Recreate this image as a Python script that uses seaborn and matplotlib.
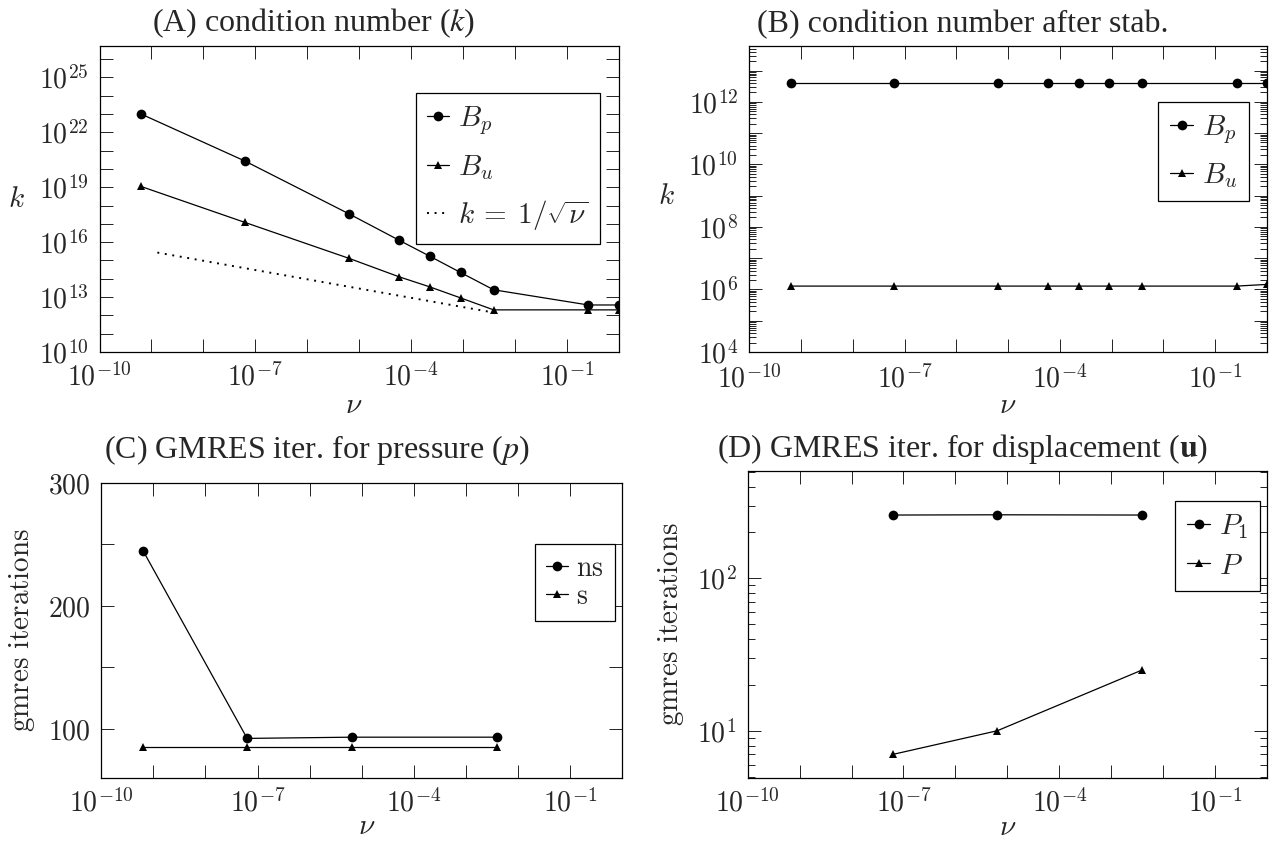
import numpy as np
import matplotlib
matplotlib.use("Agg")
import matplotlib.pyplot as plt
import seaborn as sns
from matplotlib.ticker import FixedLocator, FuncFormatter, NullFormatter
from matplotlib.font_manager import FontProperties

# ---------------- data ----------------
nu_k = [6.3e-10, 6.3e-8, 6.4e-6, 5.8e-5, 2.3e-4, 9.0e-4, 3.9e-3, 0.26, 1.0]
cond_Bp = [1.0e23, 2.7e20, 3.5e17, 1.3e16, 1.7e15, 2.2e14, 2.5e13, 3.7e12, 3.7e12]
cond_Bu = [1.1e19, 1.2e17, 1.3e15, 1.3e14, 3.6e13, 9.0e12, 2.0e12, 2.0e12, 2.0e12]
ref_nu = [1.3e-9, 5.0e-3]
ref_k = [2.7e15, 1.26e12]

stab_Bp = [4.0e12, 4.0e12, 4.0e12, 4.0e12, 4.0e12, 4.0e12, 4.0e12, 4.0e12, 4.0e12]
stab_Bu = [1.28e6, 1.28e6, 1.28e6, 1.28e6, 1.28e6, 1.28e6, 1.28e6, 1.28e6, 1.45e6]

nu_p = [6.3e-10, 6.3e-8, 6.4e-6, 3.9e-3]
iter_ns = [245, 92, 93, 93]
iter_s = [85, 85, 85, 85]

nu_u = [6.3e-8, 6.4e-6, 3.9e-3]
iter_P1 = [260, 261, 260]
iter_P = [7, 10, 25]

titles = ["(A) condition number ($k$)", "(B) condition number after stab.",
          "(C) GMRES iter. for pressure ($p$)",
          r"(D) GMRES iter. for displacement ($\mathbf{u}$)"]

# ---------------- style ----------------
sns.set_style("white")
plt.rcParams["font.family"] = ["DejaVu Serif"]
plt.rcParams["mathtext.fontset"] = "cm"
plt.rcParams["axes.unicode_minus"] = True

W, H = 1274, 842
fig = plt.figure(figsize=(W / 100, H / 100), dpi=100)


def px_axes(l, r, t, b):
    return fig.add_axes([l / W, 1 - b / H, (r - l) / W, (b - t) / H])


def style(ax):
    for s in ax.spines.values():
        s.set_visible(True)
        s.set_linewidth(0.9)
        s.set_color("black")
    ax.tick_params(which="both", direction="in", top=True, right=True,
                   bottom=True, left=True, color="#222222", width=0.7)
    ax.tick_params(which="major", length=9.5, labelsize=20, pad=8)
    ax.tick_params(which="minor", length=5)


def log_fmt(labelled):
    def f(v, pos):
        e = int(round(np.log10(v)))
        return rf"$10^{{{e}}}$" if e in labelled else ""
    return FuncFormatter(f)


def set_xlog(ax):
    ax.set_xscale("log")
    ax.set_xlim(1e-10, 1.0)
    ax.xaxis.set_major_locator(FixedLocator([10.0 ** e for e in range(-10, 1)]))
    ax.xaxis.set_major_formatter(log_fmt({-10, -7, -4, -1}))
    ax.xaxis.set_minor_locator(FixedLocator([]))
    ax.xaxis.set_minor_formatter(NullFormatter())


def line(ax, x, y, marker, ms, label=None, **kw):
    sns.lineplot(x=x, y=y, ax=ax, color="black", linewidth=0.9, marker=marker,
                 markersize=ms, markeredgewidth=0, estimator=None, sort=False,
                 label=label, **kw)


def legend(ax, anchor, size, spacing, hl=0.8):
    lg = ax.legend(loc="upper right", bbox_to_anchor=anchor, borderaxespad=0,
                   prop={"size": size}, labelspacing=spacing, handlelength=hl,
                   handletextpad=0.3, borderpad=0.4, fancybox=False,
                   framealpha=1, edgecolor="black", numpoints=1)
    lg.get_frame().set_linewidth(0.9)


def title(x, y, text):
    fig.text(x / W, 1 - y / H, text, ha="center", va="baseline",
             fontproperties=FontProperties(family="Liberation Serif", size=23,
                                           math_fontfamily="stix"))


def labels(ax, xl_pos, yl_pos, ylabel, yrot):
    ax.set_xlabel(r"$\nu$", fontsize=21)
    ax.set_ylabel(ylabel, fontsize=21, rotation=yrot)
    ax.xaxis.label.set_va("center")
    ax.yaxis.label.set_va("center")
    ax.yaxis.label.set_ha("center")
    ax.xaxis.set_label_coords(*xl_pos)
    ax.yaxis.set_label_coords(*yl_pos)


CIRC, TRI = 7.0, 5.5

# ---------------- (A) ----------------
axA = px_axes(99.5, 618.7, 45.5, 352)
style(axA)
line(axA, nu_k, cond_Bp, "o", CIRC, r"$B_p$")
line(axA, nu_k, cond_Bu, "^", TRI, r"$B_u$")
sns.lineplot(x=ref_nu, y=ref_k, ax=axA, color="black", linewidth=1.4,
             linestyle=(0, (1, 2.9)), label=r"$k\:=\:1/\sqrt{\nu}$")
set_xlog(axA)
axA.set_yscale("log")
axA.set_ylim(1e10, 10 ** 26.74)
axA.yaxis.set_major_locator(FixedLocator([10.0 ** e for e in range(10, 27)]))
axA.yaxis.set_major_formatter(log_fmt({10, 13, 16, 19, 22, 25}))
axA.yaxis.set_minor_locator(FixedLocator([]))
legend(axA, (0.964, 0.846), 21, 0.55, hl=0.75)
labels(axA, (0.49, -0.173), (-0.160, 0.50), r"$k$", 0)
title(314, 31.7, titles[0])

# ---------------- (B) ----------------
axB = px_axes(749.3, 1267, 45.5, 352)
style(axB)
line(axB, nu_k, stab_Bp, "o", CIRC, r"$B_p$")
line(axB, nu_k, stab_Bu, "^", TRI, r"$B_u$")
set_xlog(axB)
axB.set_yscale("log")
axB.set_ylim(1e4, 10 ** 13.8)
axB.yaxis.set_major_locator(FixedLocator([10.0 ** e for e in range(4, 14)]))
axB.yaxis.set_major_formatter(log_fmt({4, 6, 8, 10, 12}))
axB.yaxis.set_minor_locator(FixedLocator(
    [m * 10.0 ** e for e in range(4, 14) for m in range(2, 10)]))
axB.yaxis.set_minor_formatter(NullFormatter())
axB.tick_params(axis="x", which="major", pad=9.5)
legend(axB, (0.965, 0.817), 21, 0.5)
labels(axB, (0.50, -0.173), (-0.160, 0.51), r"$k$", 0)
title(962.6, 32, titles[1])

# ---------------- (C) ----------------
axC = px_axes(101.3, 622.3, 483, 777.7)
style(axC)
line(axC, nu_p, iter_ns, "o", CIRC, r"$\mathrm{ns}$")
line(axC, nu_p, iter_s, "^", TRI, r"$\mathrm{s}$")
set_xlog(axC)
axC.set_ylim(60, 300)
axC.yaxis.set_major_locator(FixedLocator([100, 150, 200, 250, 300]))
axC.yaxis.set_major_formatter(FuncFormatter(
    lambda v, p: rf"${int(v)}$" if v in (100, 200, 300) else ""))
legend(axC, (0.986, 0.793), 20, 0.02)
labels(axC, (0.51, -0.165), (-0.152, 0.50), r"$\mathrm{gmres\ iterations}$", 90)
title(316.6, 458, titles[2])

# ---------------- (D) ----------------
axD = px_axes(747.7, 1267, 470.7, 777.7)
style(axD)
line(axD, nu_u, iter_P1, "o", CIRC, r"$P_1$")
line(axD, nu_u, iter_P, "^", TRI, r"$P$")
set_xlog(axD)
axD.set_yscale("log")
axD.set_ylim(4.92, 508)
axD.yaxis.set_major_locator(FixedLocator([10, 100]))
axD.yaxis.set_major_formatter(log_fmt({1, 2}))
axD.yaxis.set_minor_locator(FixedLocator(
    [m * 10.0 ** e for e in range(0, 3) for m in range(2, 10)]))
axD.yaxis.set_minor_formatter(NullFormatter())
legend(axD, (0.9865, 0.902), 21, 0.35)
labels(axD, (0.50, -0.160), (-0.148, 0.50), r"$\mathrm{gmres\ iterations}$", 90)
title(963, 456.7, titles[3])

fig.savefig("out.png", dpi=100)
